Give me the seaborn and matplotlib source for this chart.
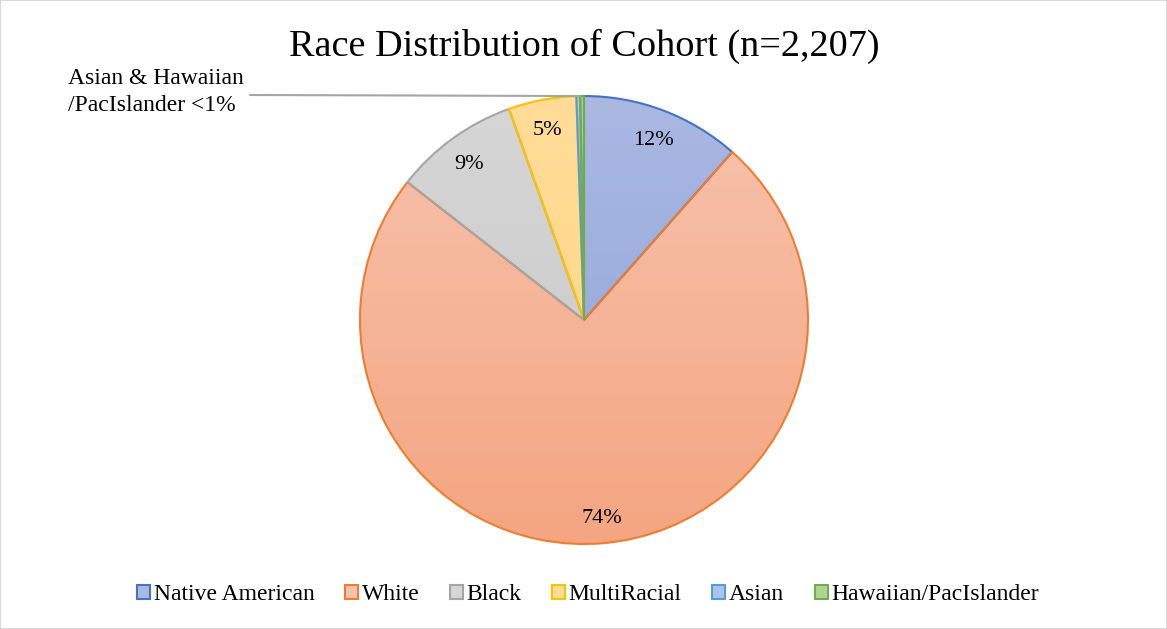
import numpy as np
import matplotlib
matplotlib.use("Agg")
import matplotlib.pyplot as plt
import matplotlib.colors as mcolors
from matplotlib.patches import Rectangle
import seaborn as sns

# ---- data ----
categories = ["Native American", "White", "Black", "MultiRacial", "Asian", "Hawaiian/PacIslander"]
counts = [254, 1634, 199, 108, 6, 6]
edge_colors = ["#4472C4", "#ED7D31", "#A5A5A5", "#FFC000", "#5B9BD5", "#70AD47"]
fill_top = ["#AAB8E2", "#F7C3AD", "#D6D6D6", "#FFDC98", "#A6C8E8", "#B0D496"]
fill_bot = ["#8EA4D8", "#F4A581", "#C8C8C8", "#FFD57F", "#93BDE3", "#A0CC84"]
title = "Race Distribution of Cohort (n=2,207)"
small_note = "Asian & Hawaiian\n/PacIslander <1%"

sns.set_theme(style="white")
plt.rcParams["font.family"] = ["Liberation Serif", "DejaVu Serif"]
plt.rcParams["text.color"] = "black"

fig = plt.figure(figsize=(11.67, 6.29), dpi=100)
W, H = 1167, 629
cx, cy, R = 584, 320, 224
ax = fig.add_axes([(cx - R) / W, (H - cy - R) / H, 2 * R / W, 2 * R / H])

total = sum(counts)

def fmt(p):
    return f"{p:.0f}%" if p >= 1 else ""

wedges, texts, autotexts = ax.pie(
    counts, startangle=90, counterclock=False, radius=1.0,
    colors=fill_bot, autopct=fmt, pctdistance=0.875,
    wedgeprops=dict(linewidth=1.5, edgecolor="white"),
    textprops=dict(fontsize=16, color="black"),
)
ax.set_aspect("equal")
ax.axis("off")

# gradient fills clipped to each wedge
for w, ec, t, b in zip(wedges, edge_colors, fill_top, fill_bot):
    cmap = mcolors.LinearSegmentedColormap.from_list("g", [b, t])
    grad = np.linspace(0, 1, 256).reshape(-1, 1)
    im = ax.imshow(grad, extent=(-1, 1, -1, 1), origin="lower", cmap=cmap,
                   aspect="auto", zorder=0.5)
    im.set_clip_path(w)
    w.set_facecolor("none")
    w.set_edgecolor(ec)
    w.set_zorder(1)
    w.set_clip_on(False)
ax.set_xlim(-1, 1)
ax.set_ylim(-1, 1)

for t in autotexts:
    t.set_zorder(3)
    x, y = t.get_position()
    t.set_position((x, y - 0.015))

# leader line for tiny slices
cum = np.cumsum(counts)
mid_small = (cum[3] + total) / 2 / total
ang = np.deg2rad(90 - 360 * mid_small)
px, py = np.cos(ang), np.sin(ang)
ax.annotate("", xy=(px * 1.0, py * 1.0), xycoords="data",
            xytext=(250 / W, (H - 95) / H), textcoords="figure fraction",
            arrowprops=dict(arrowstyle="-", color="#A5A5A5", lw=1.5,
                            shrinkA=0, shrinkB=0), annotation_clip=False)
fig.text(68 / W, (H - 92) / H, small_note, fontsize=17, ha="left", va="center",
         linespacing=1.38)

fig.text(cx / W, (H - 46) / H, title, fontsize=27.5, ha="center", va="center")

# legend
handles = [Rectangle((0, 0), 1, 1, facecolor=t, edgecolor=e, lw=1.5)
           for t, e in zip(fill_top, edge_colors)]
fig.legend(handles, categories, loc="center", bbox_to_anchor=(588 / W, (H - 595) / H),
           ncol=6, frameon=False, fontsize=17, handlelength=0.55, handleheight=0.55,
           handletextpad=0.15, columnspacing=1.3)

fig.patches.append(Rectangle((0, 0), 1, 1, transform=fig.transFigure, fill=False,
                             edgecolor="#D9D9D9", lw=1.5))

fig.savefig("out.png", dpi=100)
